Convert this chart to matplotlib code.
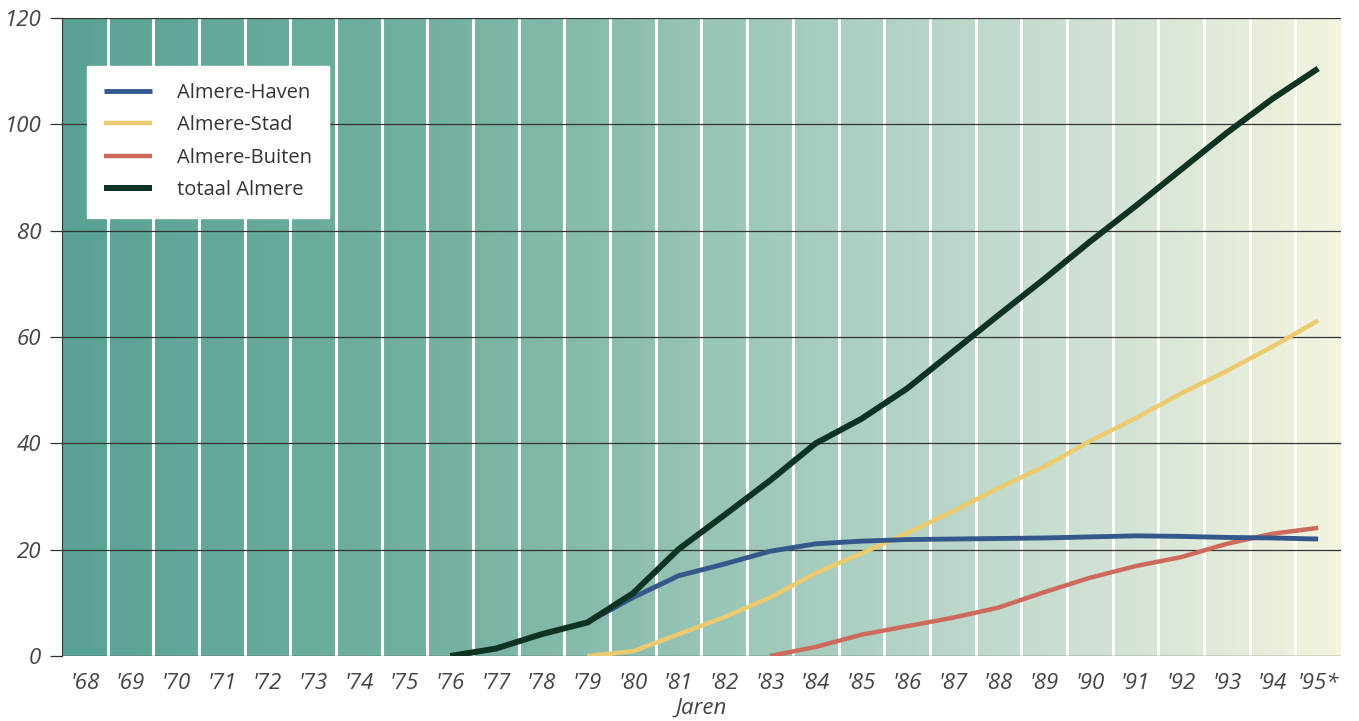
import numpy as np
import matplotlib
matplotlib.use('Agg')
import matplotlib.pyplot as plt
from matplotlib.colors import LinearSegmentedColormap

# jaren '68 t/m '95
jaren = ["'68", "'69", "'70", "'71", "'72", "'73", "'74", "'75", "'76", "'77",
         "'78", "'79", "'80", "'81", "'82", "'83", "'84", "'85", "'86", "'87",
         "'88", "'89", "'90", "'91", "'92", "'93", "'94", "'95*"]

# data per stadsdeel (startjaar, waarden)
totaal_start = "'76"
totaal = [0.0, 1.4, 4.1, 6.3, 11.8, 20.1, 26.5, 33.0, 40.0, 44.6, 50.3, 57.2,
          64.1, 70.9, 77.9, 84.6, 91.5, 98.4, 104.8, 110.5]
haven_start = "'79"
haven = [6.3, 11.0, 15.1, 17.3, 19.7, 21.1, 21.6, 21.9, 22.0, 22.1, 22.2, 22.4,
         22.6, 22.5, 22.3, 22.2, 22.0]
stad_start = "'79"
stad = [0.0, 0.9, 4.1, 7.3, 11.0, 15.6, 19.3, 23.1, 27.2, 31.6, 35.6, 40.4,
        44.7, 49.4, 53.6, 58.2, 63.1]
buiten_start = "'83"
buiten = [0.0, 1.7, 4.0, 5.6, 7.2, 9.1, 12.0, 14.7, 16.9, 18.6, 21.1, 23.0, 24.1]

yticks = [0, 20, 40, 60, 80, 100, 120]

plt.rcParams['font.family'] = ['Open Sans', 'DejaVu Sans']

fig = plt.figure(figsize=(13.59, 7.21), dpi=100)
ax = fig.add_axes([62/1359, 1-656/721, 1279/1359, 638/721])

n = len(jaren)
ax.set_xlim(-0.5, n - 0.5)
ax.set_ylim(0, 120)

# achtergrond verloop
cmap = LinearSegmentedColormap.from_list('bg', [
    (0.0, '#59a294'), (0.3, '#74b1a2'), (0.55, '#9fc9bb'),
    (0.8, '#cde0d3'), (1.0, '#f4f4df')])
grad = np.linspace(0, 1, 256).reshape(1, -1)
ax.imshow(grad, cmap=cmap, aspect='auto', extent=(-0.5, n - 0.5, 0, 120),
          zorder=0)

# witte scheidingslijnen tussen de jaren
for i in range(n - 1):
    ax.axvline(i + 0.5, color='white', lw=2.2, zorder=1)

# horizontale lijnen
for v in yticks[1:]:
    ax.axhline(v, color='#333333', lw=0.9, zorder=2)
ax.axhline(0, color='#555555', lw=1.0, zorder=2)

def reeks(start, waarden):
    i0 = jaren.index(start)
    return np.arange(i0, i0 + len(waarden)), waarden

x, y = reeks(haven_start, haven)
ax.plot(x, y, color='#34588c', lw=3.5, solid_capstyle='butt', zorder=4,
        label='Almere-Haven')
x, y = reeks(stad_start, stad)
ax.plot(x, y, color='#ecca6e', lw=3.2, solid_capstyle='butt', zorder=3,
        label='Almere-Stad')
x, y = reeks(buiten_start, buiten)
ax.plot(x, y, color='#cd6a5c', lw=3.2, solid_capstyle='butt', zorder=3,
        label='Almere-Buiten')
x, y = reeks(totaal_start, totaal)
ax.plot(x, y, color='#0e3322', lw=4.3, solid_capstyle='butt', zorder=5,
        label='totaal Almere')

ax.set_xticks(range(n))
ax.set_xticklabels(jaren, fontstyle='italic', fontsize=16, color='#444444')
ax.set_yticks(yticks)
ax.set_yticklabels([str(v) for v in yticks], fontstyle='italic',
                   fontsize=16, color='#444444')
ax.tick_params(axis='x', length=0, pad=12)
ax.tick_params(axis='y', length=9, width=0.9, color='#333333', pad=6)

for s in ['top', 'right', 'bottom']:
    ax.spines[s].set_visible(False)
ax.spines['left'].set_color('#333333')
ax.spines['left'].set_linewidth(0.8)

ax.set_xlabel('Jaren', fontstyle='italic', fontsize=16, color='#444444',
              labelpad=3)

leg = ax.legend(loc='upper left', bbox_to_anchor=(0.0195, 0.925),
                borderaxespad=0, frameon=True, fancybox=False,
                fontsize=14.5, handlelength=2.4, handletextpad=1.2,
                labelspacing=0.62, borderpad=0.85)
leg.get_frame().set_facecolor('white')
leg.get_frame().set_edgecolor('white')
leg.get_frame().set_alpha(1)
for t in leg.get_texts():
    t.set_color('#333333')
leg.set_zorder(6)

fig.savefig('out.png', dpi=100)
